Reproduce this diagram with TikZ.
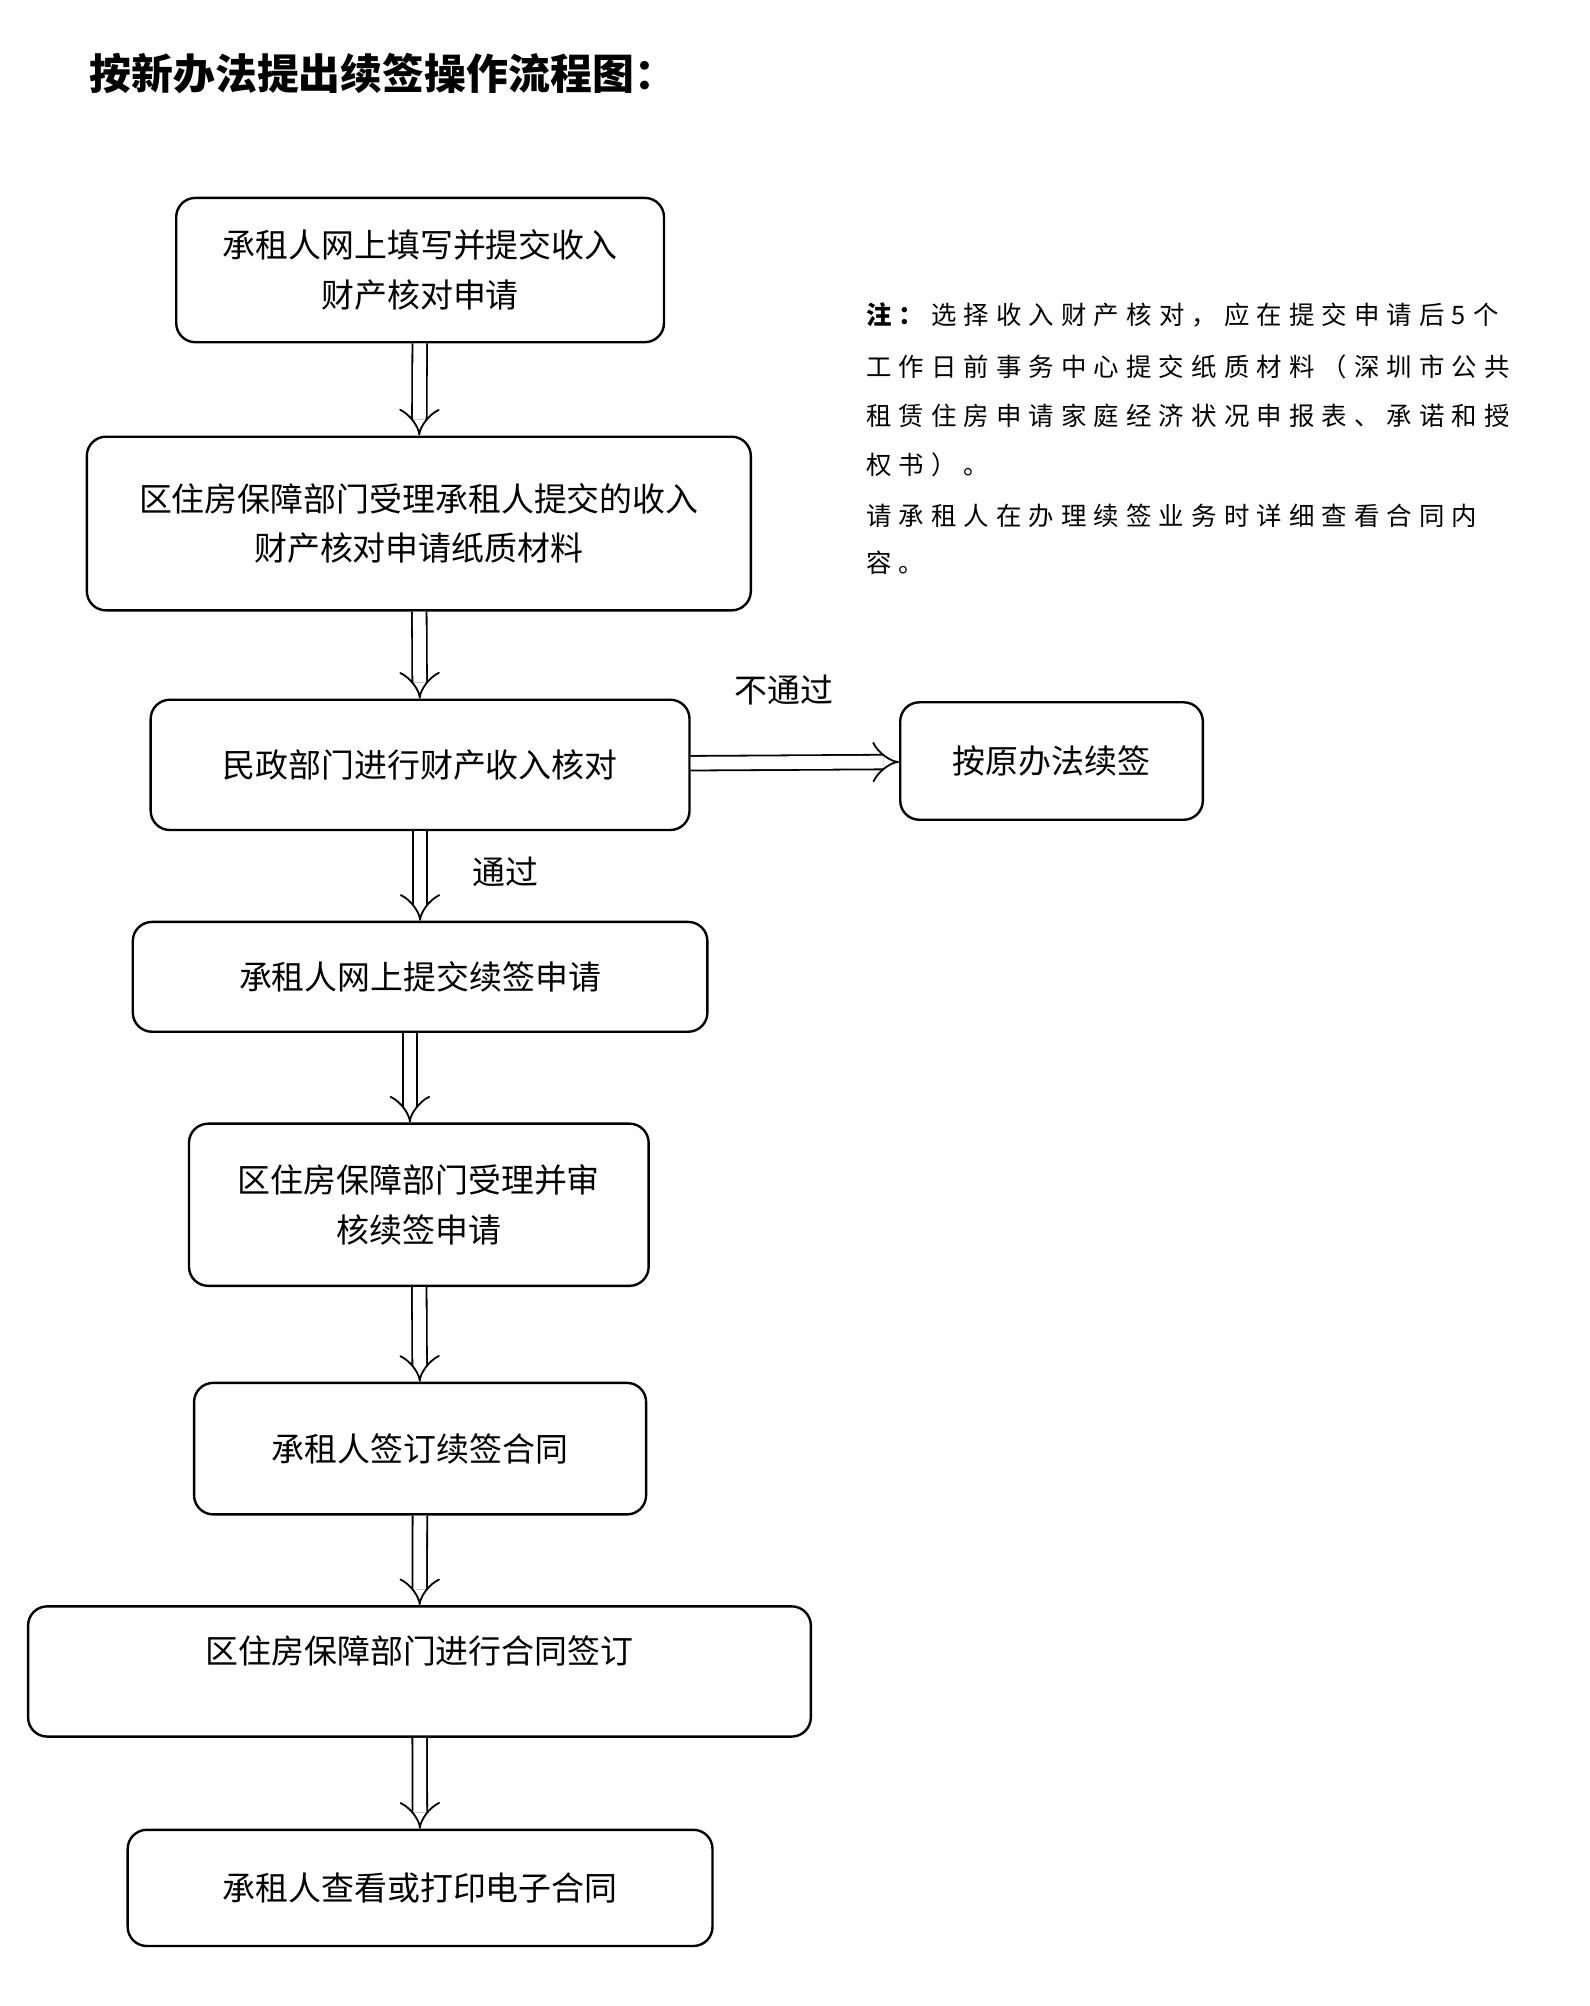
\documentclass[tikz,border=0pt]{standalone}
\usepackage{fontspec}
\setmainfont{Noto Sans CJK SC}
\usetikzlibrary{arrows}
\tikzset{
  box/.style = {draw, line width=1.6pt, rounded corners=0.45cm, align=center,
                font=\fontsize{22}{33}\selectfont, inner sep=0pt},
  flow/.style = {draw, line width=1.2pt, double, double distance=0.3cm, -implies},
  lbl/.style = {font=\fontsize{22}{26}\selectfont},
  note/.style = {anchor=west, inner sep=0pt,
                 font=\fontsize{17}{20}\selectfont\addfontfeature{LetterSpace=28}}
}
\begin{document}
\begin{tikzpicture}[x=0.03cm, y=-0.03cm]
                \useasboundingbox (0,0) rectangle (1245,1571);
                \node[anchor=west, font=\fontsize{28}{32}\selectfont\bfseries] (title) at (66,58) {按新办法提出续签操作流程图：};
                \node[box, minimum width=382*0.03cm, minimum height=113*0.03cm] (b1) at (329,211.5) {承租人网上填写并提交收入\\财产核对申请};
                \node[box, minimum width=520*0.03cm, minimum height=136*0.03cm] (b2) at (328,410) {区住房保障部门受理承租人提交的收入\\财产核对申请纸质材料};
                \node[box, minimum width=422*0.03cm, minimum height=102*0.03cm] (b3) at (329,599) {民政部门进行财产收入核对};
                \node[box, minimum width=237*0.03cm, minimum height=92*0.03cm] (old) at (823.5,596) {按原办法续签};
                \node[box, minimum width=450*0.03cm, minimum height=86*0.03cm] (b4) at (329,765) {承租人网上提交续签申请};
                \node[box, minimum width=360*0.03cm, minimum height=127*0.03cm] (b5) at (328,943.5) {区住房保障部门受理并审\\核续签申请};
                \node[box, minimum width=354*0.03cm, minimum height=103*0.03cm] (b6) at (329,1134.5) {承租人签订续签合同};
                \node[box, minimum width=613*0.03cm, minimum height=102*0.03cm] (b7) at (328.5,1309) {};
                \node[lbl] (b7t) at (328.5,1293) {区住房保障部门进行合同签订};
                \node[box, minimum width=458*0.03cm, minimum height=91*0.03cm] (b8) at (329,1478.5) {承租人查看或打印电子合同};
                \draw[flow] (b1) -- (b2);
                \draw[flow] (b2) -- (b3);
                \draw[flow] (b3) -- (b4);
                \draw[flow] (b4.south -| 321,0) -- (b5.north -| 321,0);
                \draw[flow] (b5) -- (b6);
                \draw[flow] (b6) -- (b7);
                \draw[flow] (b7) -- (b8);
                \draw[flow] (b3) -- (old);
                \node[lbl] (fail) at (614,540) {不通过};
                \node[lbl] (pass) at (396,683) {通过};
                % note
                \node[note] (n1) at (678,247) {\textbf{注：}选择收入财产核对，应在提交申请后5个};
                \node[note] (n2) at (678,287) {工作日前事务中心提交纸质材料（深圳市公共};
                \node[note] (n3) at (678,326) {租赁住房申请家庭经济状况申报表、承诺和授};
                \node[note] (n4) at (678,364) {权书）。};
                \node[note] (n5) at (678,404) {请承租人在办理续签业务时详细查看合同内};
                \node[note] (n6) at (678,441) {容。};
\end{tikzpicture}
\end{document}
